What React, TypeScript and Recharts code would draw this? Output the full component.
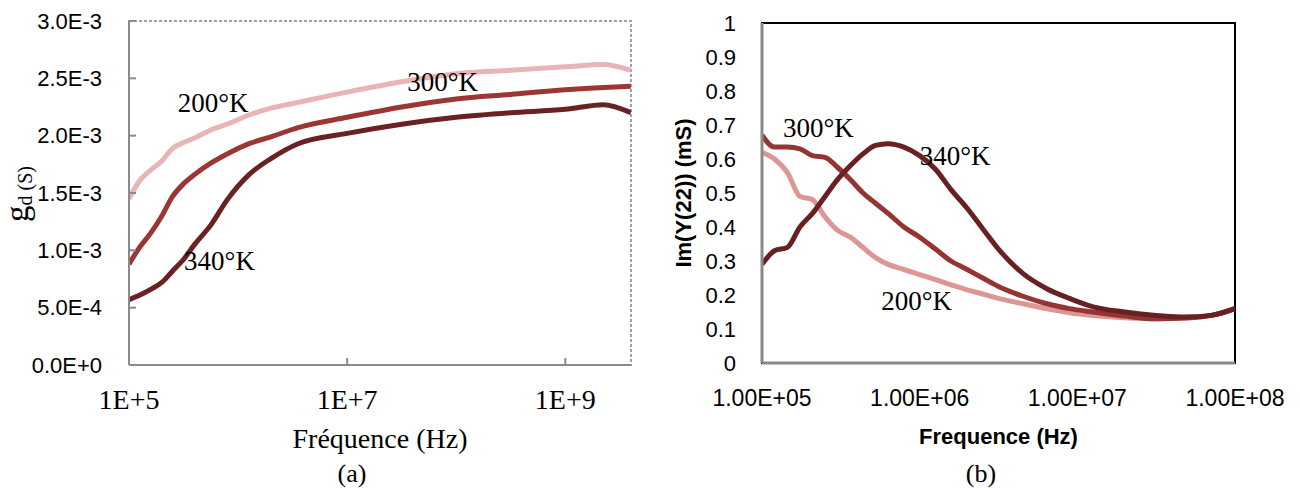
import { LineChart, Line, XAxis, YAxis, ReferenceArea, ReferenceDot } from 'recharts'

const serif = '"Liberation Serif", "Times New Roman", serif'
const sans = '"Liberation Sans", Arial, sans-serif'

// (a) drain conductance gd, values in 1E-3 S
const freqA = [1e5, 1.26e5, 1.58e5, 2e5, 2.51e5, 3.16e5, 3.98e5, 5.62e5, 7.94e5, 1.26e6, 2e6, 3.55e6, 1e7, 3.16e7, 1e8, 3.16e8, 1e9, 2.24e9, 3.98e9]
const gd200 = [1.45, 1.61, 1.7, 1.78, 1.89, 1.94, 1.98, 2.05, 2.1, 2.18, 2.24, 2.29, 2.38, 2.47, 2.54, 2.57, 2.6, 2.62, 2.57]
const gd300 = [0.88, 1.03, 1.15, 1.3, 1.47, 1.58, 1.66, 1.76, 1.84, 1.93, 1.99, 2.07, 2.16, 2.25, 2.32, 2.36, 2.4, 2.42, 2.43]
const gd340 = [0.57, 0.61, 0.66, 0.72, 0.82, 0.92, 1.05, 1.22, 1.44, 1.66, 1.8, 1.93, 2.02, 2.1, 2.16, 2.2, 2.23, 2.27, 2.2]
const ticksXA = [1e5, 1e7, 1e9]
const ticksYA = [0, 0.5, 1, 1.5, 2, 2.5, 3]

// (b) Im(Y22) in mS
const freqB = [1e5, 1.2e5, 1.45e5, 1.74e5, 2.09e5, 2.51e5, 3.02e5, 3.63e5, 4.37e5, 5.25e5, 6.31e5, 7.94e5, 1e6, 1.26e6, 1.58e6, 2e6, 2.51e6, 3.16e6, 4.47e6, 6.31e6, 8.91e6, 1.26e7, 2e7, 3.16e7, 5.01e7, 7.08e7, 1e8]
const im200 = [0.62, 0.6, 0.56, 0.49, 0.48, 0.43, 0.39, 0.37, 0.34, 0.31, 0.29, 0.275, 0.26, 0.245, 0.23, 0.215, 0.203, 0.19, 0.175, 0.16, 0.148, 0.14, 0.133, 0.13, 0.135, 0.14, 0.16]
const im300 = [0.67, 0.635, 0.635, 0.63, 0.61, 0.605, 0.575, 0.54, 0.5, 0.47, 0.44, 0.4, 0.37, 0.335, 0.3, 0.275, 0.25, 0.225, 0.197, 0.175, 0.16, 0.15, 0.138, 0.13, 0.132, 0.14, 0.16]
const im340 = [0.29, 0.33, 0.34, 0.4, 0.44, 0.49, 0.54, 0.58, 0.615, 0.64, 0.645, 0.635, 0.61, 0.57, 0.51, 0.455, 0.395, 0.335, 0.265, 0.22, 0.19, 0.165, 0.15, 0.14, 0.135, 0.14, 0.16]
const ticksXB = [1e5, 1e6, 1e7, 1e8]
const ticksYB = [0, 0.1, 0.2, 0.3, 0.4, 0.5, 0.6, 0.7, 0.8, 0.9, 1]

// temperature annotations: [text, freq, value]
const notesA: [string, number, number][] = [
  ['200°K', 2.8e5, 2.21],
  ['300°K', 3.55e7, 2.39],
  ['340°K', 3.2e5, 0.83],
]
const notesB: [string, number, number][] = [
  ['300°K', 1.36e5, 0.665],
  ['340°K', 1.0e6, 0.582],
  ['200°K', 5.7e5, 0.156],
]

const rowsA = freqA.map((f, i) => ({ f, k200: gd200[i], k300: gd300[i], k340: gd340[i] }))
const rowsB = freqB.map((f, i) => ({ f, k200: im200[i], k300: im300[i], k340: im340[i] }))

function TempLabel(props: any) {
  const vb = props.viewBox || {}
  return (
    <text x={vb.x} y={vb.y} fontFamily={serif} fontSize={27} fill="#000">
      {props.text}
    </text>
  )
}

const expA = (v: number) => (v * 1e-3).toExponential(1).toUpperCase()
const expB = (v: number) => {
  const e = Math.round(Math.log10(v))
  return (v / Math.pow(10, e)).toFixed(2) + 'E+' + String(e).padStart(2, '0')
}

function ChartA() {
  return (
    <LineChart width={650} height={490} data={rowsA} margin={{ top: 21, right: 19, bottom: 0, left: 0 }}>
      <ReferenceArea x1={1e5} x2={4e9} y1={0} y2={3} fill="none" stroke="#a0a0a0" strokeWidth={2} strokeDasharray="3 2" />
      <XAxis
        dataKey="f"
        type="number"
        scale="log"
        domain={[1e5, 4e9]}
        allowDataOverflow
        ticks={ticksXA}
        tickFormatter={(v: number) => v.toExponential(0).toUpperCase()}
        height={125}
        tickSize={-7}
        tickMargin={31}
        axisLine={{ stroke: '#8a8a8a', strokeWidth: 2 }}
        tickLine={{ stroke: '#8a8a8a', strokeWidth: 2 }}
        tick={{ fill: '#000', fontSize: 28, fontFamily: serif }}
        label={{ value: 'Fréquence (Hz)', position: 'insideBottom', offset: 42, fill: '#000', fontSize: 28, fontFamily: serif }}
      />
      <YAxis
        type="number"
        domain={[0, 3]}
        ticks={ticksYA}
        tickFormatter={expA}
        width={129}
        tickSize={-7}
        tickMargin={34}
        axisLine={{ stroke: '#8a8a8a', strokeWidth: 2 }}
        tickLine={{ stroke: '#8a8a8a', strokeWidth: 2 }}
        tick={{ fill: '#000', fontSize: 22, fontFamily: sans }}
      />
      <Line dataKey="k200" type="monotone" stroke="#E8B5B4" strokeWidth={5} dot={false} isAnimationActive={false} />
      <Line dataKey="k300" type="monotone" stroke="#9C3634" strokeWidth={5} dot={false} isAnimationActive={false} />
      <Line dataKey="k340" type="monotone" stroke="#6A2124" strokeWidth={5} dot={false} isAnimationActive={false} />
      {notesA.map(([t, f, v]) => (
        <ReferenceDot key={t} x={f} y={v} r={0} fill="none" stroke="none" label={<TempLabel text={t} />} />
      ))}
    </LineChart>
  )
}

function ChartB() {
  return (
    <LineChart width={650} height={490} data={rowsB} margin={{ top: 23, right: 65, bottom: 0, left: 0 }}>
      <ReferenceArea x1={1e5} x2={1e8} y1={0} y2={1} fill="none" stroke="#000" strokeWidth={2} />
      <XAxis
        dataKey="f"
        type="number"
        scale="log"
        domain={[1e5, 1e8]}
        allowDataOverflow
        ticks={ticksXB}
        tickFormatter={expB}
        height={127}
        tickSize={0}
        tickMargin={27}
        tickLine={false}
        axisLine={{ stroke: '#8a8a8a', strokeWidth: 3 }}
        tick={{ fill: '#000', fontSize: 23, fontFamily: sans }}
        label={{ value: 'Frequence (Hz)', position: 'insideBottom', offset: 46, fill: '#000', fontSize: 22, fontWeight: 'bold', fontFamily: sans }}
      />
      <YAxis
        type="number"
        domain={[0, 1]}
        ticks={ticksYB}
        width={112}
        tickSize={0}
        tickMargin={26}
        tickLine={false}
        axisLine={{ stroke: '#8a8a8a', strokeWidth: 3 }}
        tick={{ fill: '#000', fontSize: 22, fontFamily: sans }}
      />
      <Line dataKey="k200" type="monotone" stroke="#DC9693" strokeWidth={5} dot={false} isAnimationActive={false} />
      <Line dataKey="k300" type="monotone" stroke="#953533" strokeWidth={5} dot={false} isAnimationActive={false} />
      <Line dataKey="k340" type="monotone" stroke="#682023" strokeWidth={5} dot={false} isAnimationActive={false} />
      {notesB.map(([t, f, v]) => (
        <ReferenceDot key={t} x={f} y={v} r={0} fill="none" stroke="none" label={<TempLabel text={t} />} />
      ))}
    </LineChart>
  )
}

export default function App() {
  return (
    <div style={{ position: 'absolute', left: 0, top: 0, width: 1300, height: 490, background: '#fff' }}>
      <div style={{ position: 'absolute', left: 0, top: 0 }}>
        <ChartA />
      </div>
      <div style={{ position: 'absolute', left: 650, top: 0 }}>
        <ChartB />
      </div>
      <svg width={1300} height={490} style={{ position: 'absolute', left: 0, top: 0, pointerEvents: 'none' }}>
        <text transform="translate(28, 222) rotate(-90)" fontFamily={serif} fill="#000">
          <tspan fontSize={33}>g</tspan>
          <tspan fontSize={20} dy={4}>d (S)</tspan>
        </text>
        <text transform="translate(683, 193) rotate(-90)" textAnchor="middle" dominantBaseline="central" fontFamily={sans} fontWeight="bold" fontSize={22} fill="#000">
          Im(Y(22)) (mS)
        </text>
        <text x={352} y={482} textAnchor="middle" fontFamily={serif} fontSize={26} fill="#000">(a)</text>
        <text x={981} y={482} textAnchor="middle" fontFamily={serif} fontSize={26} fill="#000">(b)</text>
      </svg>
    </div>
  )
}
